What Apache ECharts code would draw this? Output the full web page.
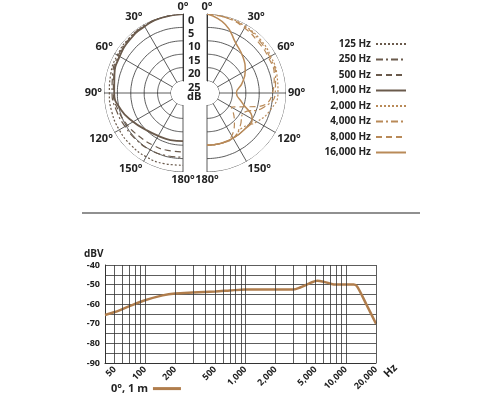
<!DOCTYPE html>
<html><head><meta charset="utf-8">
<script src="https://cdn.jsdelivr.net/npm/echarts@6.0.0/dist/echarts.min.js"></script>
<style>html,body{margin:0;background:#fff}#c{width:500px;height:400px}</style>
</head><body><div id="c"></div>
<script>
// --- polar data: [dB attenuation, angle deg] ---
const angles = [0, 15, 30, 45, 60, 75, 90, 105, 120, 135, 150, 165, 180];
const lowNames = ['125 Hz', '250 Hz', '500 Hz', '1,000 Hz'];
const highNames = ['2,000 Hz', '4,000 Hz', '8,000 Hz', '16,000 Hz'];
const low125 = [0, 0.2, 0.5, 0.8, 1.2, 1.6, 2, 2, 2, 2, 2, 2.2, 2.5];
const low250 = [0, 0.2, 0.6, 1, 1.6, 2.3, 3, 3.8, 4.5, 4.8, 5, 5.3, 5.5];
const low500 = [0, 0.2, 0.7, 1.2, 2, 2.8, 3.5, 4.5, 5.5, 6.5, 7, 7.3, 7.5];
const low1000 = [0, 0.3, 0.8, 1.4, 2.2, 3, 3.8, 5.5, 8, 10, 11, 11.3, 11.5];
const high2000 = [0, 0.3, 0.8, 1.3, 2, 2.5, 3, 5, 8, 11, 10, 10, 10];
const high4000 = [0, 0.5, 1, 1.8, 2.5, 3, 4, 8, 14, 12, 10, 10, 10];
const high8000 = [0, 0.5, 1.5, 2.5, 3, 3.5, 5, 10, 19, 15, 11, 10, 10];
const high16000 = [0, 3, 8, 10.5, 13, 16, 18.5, 16, 10, 10, 10, 10, 10];
const dbTicks = [0, 5, 10, 15, 20, 25];
const ringAngles = [0, 10, 20, 30, 40, 50, 60, 70, 80, 90, 100, 110, 120, 130, 140, 150, 160, 170, 180];

// --- frequency response ---
const freqHz = [40, 50, 70, 100, 150, 200, 300, 500, 700, 1000, 2000, 3000, 3500, 4500, 5200, 6000, 7000, 8000, 10000, 12000, 13000, 16000, 20000];
const freqDbv = [-65.5, -64, -61, -58, -55.5, -54.5, -54, -53.5, -53, -52.5, -52.5, -52.5, -51.5, -49, -48, -48.5, -49.5, -50, -50, -50, -51, -60, -70];
const freqLabels = [50, 100, 200, 500, 1000, 2000, 5000, 10000, 20000];
const gridFreqs = [50, 60, 70, 80, 90, 100, 200, 300, 400, 500, 600, 700, 800, 900, 1000, 2000, 3000, 4000, 5000, 6000, 7000, 8000, 9000, 10000, 20000];

const font = '"Open Sans", sans-serif';
const dark = '#6a5a4c', tan = '#b98a58';
const dashDot = [7, 3, 2, 3];
const lowStyles = [[2, 2], dashDot, [6, 4], 'solid'];
const outer = 79, inner = 12, cy = 93;

const pair = arr => arr.map((v, i) => [v, angles[i]]);
const polarSeries = (names, data, idx, color, widths) => names.map((n, i) => ({
  name: n, type: 'line', coordinateSystem: 'polar', polarIndex: idx,
  data: pair(data[i]), symbol: 'none', smooth: true, z: 3,
  lineStyle: { color: color, width: widths[i], type: lowStyles[i] }
}));
const rings = idx => dbTicks.map(v => ({
  type: 'line', coordinateSystem: 'polar', polarIndex: idx, silent: true, symbol: 'none', smooth: true, z: 1,
  data: ringAngles.map(a => [v, a]), lineStyle: { color: '#333', width: 0.8 }
}));

const angleAx = (idx, cw, end) => ({
  polarIndex: idx, type: 'value', min: 0, max: 180, interval: 30,
  startAngle: 90, endAngle: end, clockwise: cw,
  axisLine: { show: false },
  axisTick: { show: false },
  splitLine: { lineStyle: { color: '#333', width: 0.8 } },
  axisLabel: { formatter: '{value}°', color: '#222', fontWeight: 'bold', fontSize: 11, fontFamily: font, margin: 2 }
});
const radiusAx = idx => ({
  polarIndex: idx, type: 'value', min: 0, max: 25, interval: 5, inverse: true,
  axisLine: { show: true, lineStyle: { color: '#333' } }, axisTick: { show: false }, axisLabel: { show: false },
  splitLine: { show: false }
});

const dbText = dbTicks.map(v => ({
  type: 'text', left: 188, top: cy - (outer - v / 25 * (outer - inner)) + 1,
  style: { text: String(v), font: 'bold 11px ' + font, fill: '#222', textAlign: 'center' }
}));
dbText.push({ type: 'text', left: 187, top: cy - 2, style: { text: 'dB', font: 'bold 11px ' + font, fill: '#222' } });

const chart = echarts.init(document.getElementById('c'));
chart.setOption({
  animation: false,
  polar: [
    { center: [183, cy], radius: [inner, outer] },
    { center: [207, cy], radius: [inner, outer] }
  ],
  angleAxis: [angleAx(0, false, 270), angleAx(1, true, -90)],
  radiusAxis: [radiusAx(0), radiusAx(1)],
  grid: { left: 105, right: 124, top: 265, bottom: 37, show: false },
  xAxis: {
    type: 'log', logBase: 10, min: 40, max: 20000,
    axisLine: { lineStyle: { color: '#333' } }, axisTick: { show: false },
    splitLine: { show: false },
    axisLabel: {
      customValues: freqLabels, rotate: 45, color: '#222', fontWeight: 'bold', fontSize: 9, fontFamily: font, margin: 5,
      formatter: v => v >= 1000 ? v.toLocaleString('en-US') : String(v)
    }
  },
  yAxis: {
    type: 'value', min: -90, max: -40, interval: 10,
    axisLine: { show: true, lineStyle: { color: '#333' } }, axisTick: { show: false },
    splitLine: { lineStyle: { color: '#333', width: 0.8 } },
    minorTick: { show: false, splitNumber: 2 },
    minorSplitLine: { show: true, lineStyle: { color: '#333', width: 0.8 } },
    axisLabel: { color: '#222', fontWeight: 'bold', fontSize: 9, fontFamily: font, margin: 5 }
  },
  legend: [
    {
      data: lowNames.concat(highNames), orient: 'vertical', right: 88, top: 34, align: 'right',
      itemWidth: 30, itemHeight: 8, itemGap: 5.5, itemStyle: { opacity: 0 },
      textStyle: { color: '#222', fontWeight: 'bold', fontSize: 10, fontFamily: font }
    },
    {
      data: ['0°, 1 m'], left: 106, top: 378, align: 'right', itemWidth: 28, itemStyle: { opacity: 0 },
      lineStyle: { width: 3 },
      textStyle: { color: '#222', fontWeight: 'bold', fontSize: 11, fontFamily: font }
    }
  ],
  graphic: dbText.concat([
    { type: 'line', shape: { x1: 82, y1: 213, x2: 420, y2: 213 }, style: { stroke: '#222', lineWidth: 1.2 } },
    { type: 'text', left: 84, top: 249, style: { text: 'dBV', font: 'bold 10px ' + font, fill: '#222' } },
    { type: 'text', x: 382, y: 372, rotation: Math.PI / 4, style: { text: 'Hz', font: 'bold 11px ' + font, fill: '#222' } }
  ]),
  series: rings(0).concat(rings(1))
    .concat(polarSeries(lowNames, [low125, low250, low500, low1000], 0, dark, [1.2, 1.2, 1.2, 1.8]))
    .concat(polarSeries(highNames, [high2000, high4000, high8000, high16000], 1, tan, [1.2, 1.2, 1.2, 1.5]))
    .concat([{
      name: '0°, 1 m', type: 'line', data: freqHz.map((f, i) => [f, freqDbv[i]]), symbol: 'none', smooth: 0.3,
      lineStyle: { color: '#b07d4c', width: 2.5 },
      markLine: {
        silent: true, symbol: 'none', label: { show: false },
        lineStyle: { color: '#333', width: 0.8, type: 'solid' },
        data: gridFreqs.map(f => ({ xAxis: f }))
      }
    }])
});
</script></body></html>
